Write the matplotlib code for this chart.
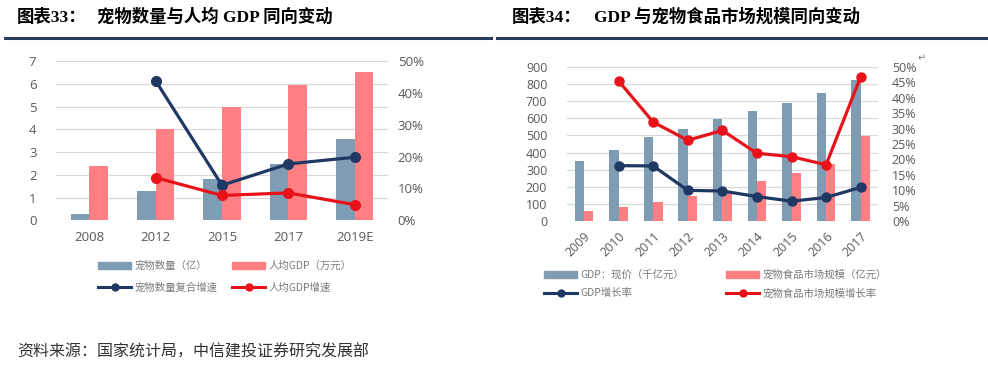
import numpy as np
import matplotlib
matplotlib.use("Agg")
import matplotlib.pyplot as plt
from matplotlib.ticker import PercentFormatter, MultipleLocator
from matplotlib.lines import Line2D
from matplotlib.patches import Patch

# ---------------- data ----------------
left_categories = ['2008', '2012', '2015', '2017', '2019E']
pet_count = [0.28, 1.3, 1.8, 2.46, 3.57]            # 宠物数量（亿）
gdp_per_capita = [2.4, 4.0, 5.0, 5.94, 6.53]        # 人均GDP（万元）
pet_count_cagr = [np.nan, 0.438, 0.110, 0.177, 0.198]   # 宠物数量复合增速
gdp_pc_growth = [np.nan, 0.134, 0.078, 0.086, 0.049]    # 人均GDP增速

right_categories = ['2009', '2010', '2011', '2012', '2013', '2014', '2015', '2016', '2017']
gdp_current = [349, 413, 489, 540, 596, 643, 686, 744, 825]      # GDP：现价（千亿元）
pet_food_market = [60, 83, 113, 148, 171, 237, 283, 336, 495]    # 宠物食品市场规模（亿元）
gdp_growth = [np.nan, 0.180, 0.179, 0.100, 0.098, 0.080, 0.065, 0.077, 0.110]
pet_food_growth = [np.nan, 0.454, 0.321, 0.262, 0.294, 0.220, 0.209, 0.183, 0.468]

# ---------------- style ----------------
BLUE_BAR = '#7e9db5'
RED_BAR = '#ff7f82'
NAVY = '#1f3864'
RED = '#e8121a'
GRID = '#d9d9d9'
TICK = '#595959'
LEG = '#7a7a7a'
CJK = ['Noto Sans CJK SC', 'DejaVu Sans']
TITLE_FAM = ['Liberation Serif', 'Noto Sans CJK SC']
TICK_FAM = ['Open Sans', 'DejaVu Sans']

plt.rcParams['font.family'] = CJK

W, H = 988, 371
fig = plt.figure(figsize=(W / 100, H / 100), dpi=100)
fig.patch.set_facecolor('white')


def fx(px):
    return px / W


def fy(py):
    return 1 - py / H


def style_axes(ax, ax2, tick_fs, ypad, y2pad, xpad):
    for a in (ax, ax2):
        for s in a.spines.values():
            s.set_visible(False)
        a.tick_params(length=0, colors=TICK, labelsize=tick_fs)
    ax.tick_params(axis='y', pad=ypad)
    ax2.tick_params(axis='y', pad=y2pad)
    ax.tick_params(axis='x', pad=xpad)
    ax.yaxis.grid(True, color=GRID, lw=0.9)
    ax.set_axisbelow(True)
    for lab in ax.get_xticklabels() + ax.get_yticklabels() + ax2.get_yticklabels():
        lab.set_family(TICK_FAM)


# ---------------- left chart ----------------
axL = fig.add_axes([fx(56), fy(220.3), fx(388 - 56), (220.3 - 61) / H])
xL = np.arange(len(left_categories))
bw = 0.28
axL.bar(xL - bw / 2, pet_count, bw, color=BLUE_BAR)
axL.bar(xL + bw / 2, gdp_per_capita, bw, color=RED_BAR)
axL.set_xlim(-0.5, len(left_categories) - 0.5)
axL.set_ylim(0, 7)
axL.yaxis.set_major_locator(MultipleLocator(1))
axL.set_xticks(xL)
axL.set_xticklabels(left_categories)
axL2 = axL.twinx()
axL2.plot(xL, pet_count_cagr, color=NAVY, lw=2.3, marker='o', ms=7)
axL2.plot(xL, gdp_pc_growth, color=RED, lw=2.3, marker='o', ms=7)
axL2.set_ylim(0, 0.5)
axL2.yaxis.set_major_locator(MultipleLocator(0.1))
axL2.yaxis.set_major_formatter(PercentFormatter(1.0, decimals=0))
style_axes(axL, axL2, 9.5, 14, 7, 8)

hL = [Patch(color=BLUE_BAR), Line2D([], [], color=NAVY, lw=2.2, marker='o', ms=5),
      Patch(color=RED_BAR), Line2D([], [], color=RED, lw=2.2, marker='o', ms=5)]
lL = ['宠物数量（亿）', '宠物数量复合增速', '人均GDP（万元）', '人均GDP增速']
legL = fig.legend(hL, lL, ncol=2, loc='upper left', bbox_to_anchor=(fx(98), fy(261)),
                  frameon=False, fontsize=7.5, borderpad=0, borderaxespad=0,
                  handlelength=3.2, handletextpad=0.3, columnspacing=1.4,
                  labelspacing=1.05, labelcolor=LEG)

# ---------------- right chart ----------------
axR = fig.add_axes([fx(566.7), fy(221.3), fx(878 - 566.7), (221.3 - 66.7) / H])
xR = np.arange(len(right_categories))
bw2 = 0.27
axR.bar(xR - bw2 / 2, gdp_current, bw2, color=BLUE_BAR)
axR.bar(xR + bw2 / 2, pet_food_market, bw2, color=RED_BAR)
axR.set_xlim(-0.5, len(right_categories) - 0.5)
axR.set_ylim(0, 900)
axR.yaxis.set_major_locator(MultipleLocator(100))
axR.set_xticks(xR)
axR.set_xticklabels(right_categories, rotation=45, ha='right', rotation_mode='anchor')
axR2 = axR.twinx()
axR2.plot(xR, gdp_growth, color=NAVY, lw=2.3, marker='o', ms=6.5)
axR2.plot(xR, pet_food_growth, color=RED, lw=2.3, marker='o', ms=6.5)
axR2.set_ylim(0, 0.5)
axR2.yaxis.set_major_locator(MultipleLocator(0.05))
axR2.yaxis.set_major_formatter(PercentFormatter(1.0, decimals=0))
style_axes(axR, axR2, 9, 14, 10, 6)
for lab in axR.get_xticklabels():
    lab.set_fontsize(9)

fig.text(fx(918), fy(58), '↵', fontsize=7, color='#7f7f7f', family=['DejaVu Sans'],
         ha='left', va='center')

hR = [Patch(color=BLUE_BAR), Line2D([], [], color=NAVY, lw=2.2, marker='o', ms=5),
      Patch(color=RED_BAR), Line2D([], [], color=RED, lw=2.2, marker='o', ms=5)]
lR = ['GDP：现价（千亿元）', 'GDP增长率', '宠物食品市场规模（亿元）', '宠物食品市场规模增长率']
legR = fig.legend(hR, lR, ncol=2, loc='upper left', bbox_to_anchor=(fx(544), fy(270)),
                  frameon=False, fontsize=7.5, borderpad=0, borderaxespad=0,
                  handlelength=3.2, handletextpad=0.3, columnspacing=4.0,
                  labelspacing=0.75, labelcolor=LEG)

# ---------------- titles, rules, source ----------------
fig.text(fx(17), fy(17), '图表33：', fontsize=12.5, fontweight='bold', family=TITLE_FAM,
         ha='left', va='center', color='black')
fig.text(fx(97), fy(17), '宠物数量与人均 GDP 同向变动', fontsize=12.5, fontweight='bold',
         family=TITLE_FAM, ha='left', va='center', color='black')
fig.text(fx(512), fy(17), '图表34：', fontsize=12.5, fontweight='bold', family=TITLE_FAM,
         ha='left', va='center', color='black')
fig.text(fx(594), fy(17), 'GDP 与宠物食品市场规模同向变动', fontsize=12.5, fontweight='bold',
         family=TITLE_FAM, ha='left', va='center', color='black')

fig.add_artist(Line2D([fx(5), fx(491)], [fy(37.5), fy(37.5)], color='#2b3d5c', lw=2.2))
fig.add_artist(Line2D([fx(497), fx(988)], [fy(37.5), fy(37.5)], color='#2b3d5c', lw=2.2))

fig.text(fx(17), fy(352), '资料来源：国家统计局，中信建投证券研究发展部', fontsize=11.5,
         color='#333333', ha='left', va='center', family=CJK)

fig.savefig('out.png', dpi=100, facecolor='white')
